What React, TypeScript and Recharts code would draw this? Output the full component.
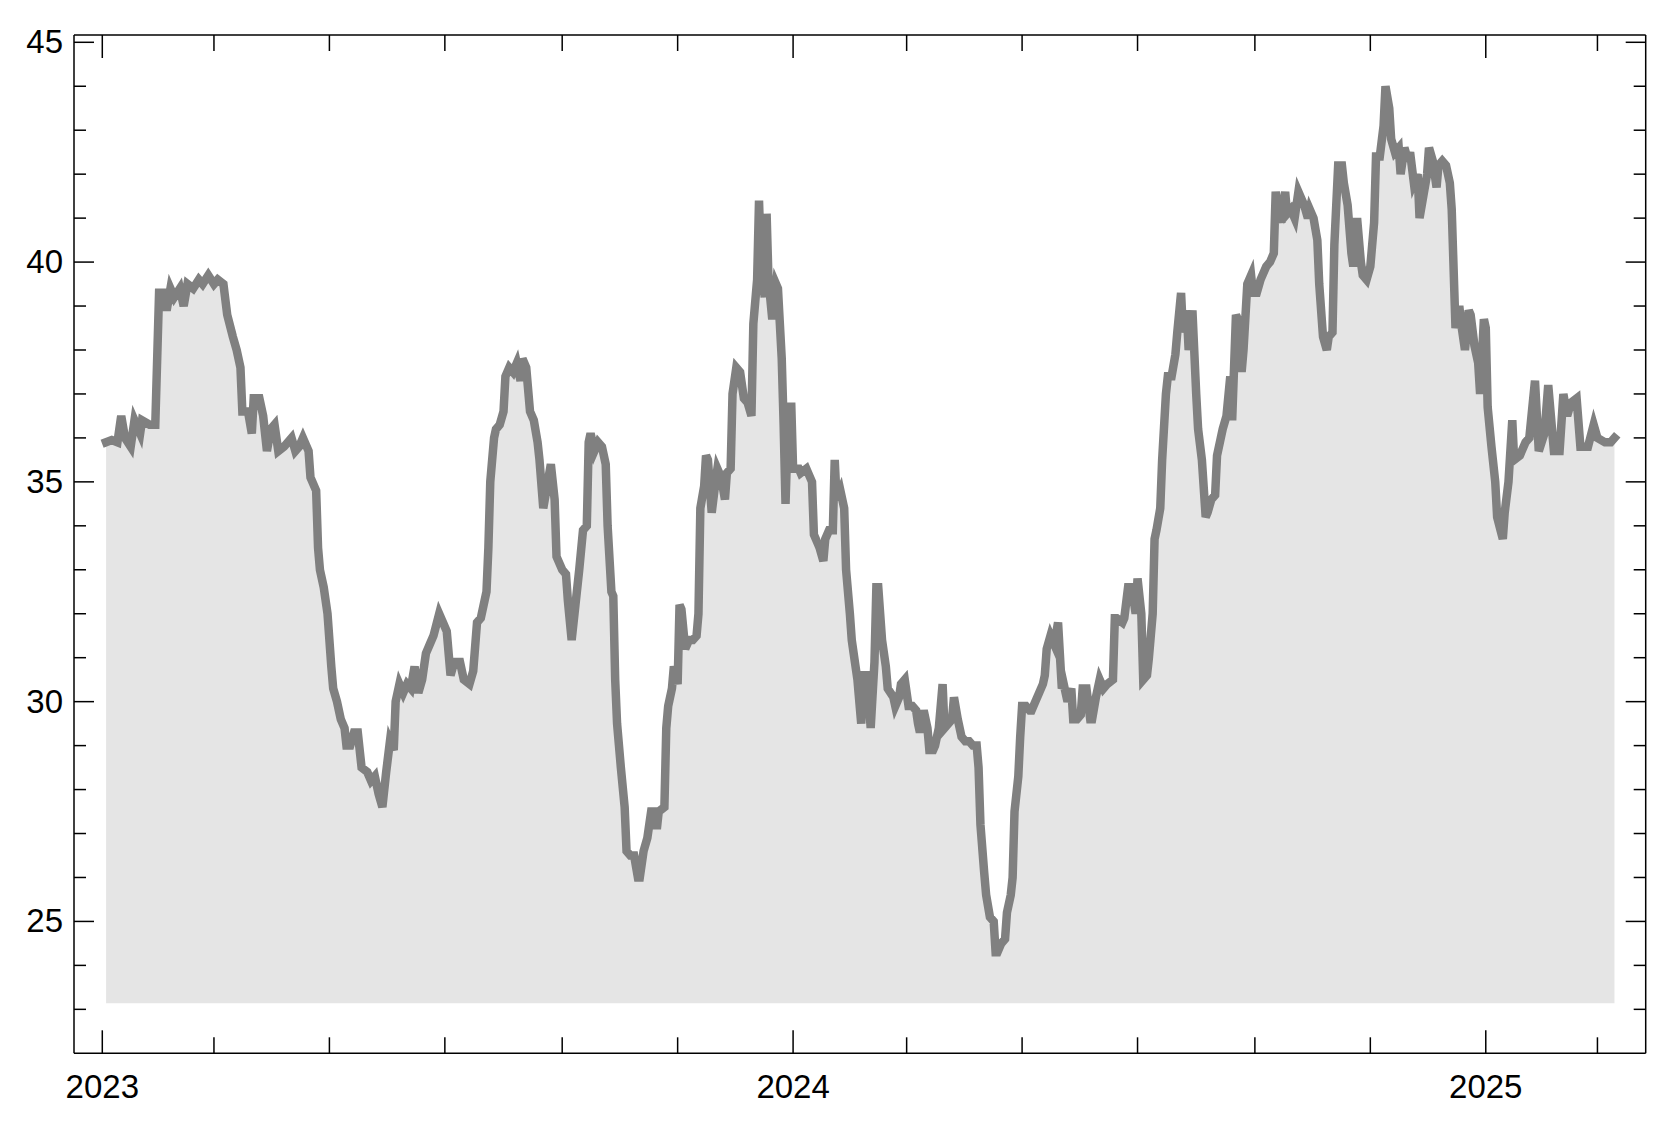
import { ComposedChart, Area, XAxis, YAxis } from "recharts";

// closing values, one per sampled trading day
const dates = [
  "2023-01-03", "2023-01-06", "2023-01-09", "2023-01-11", "2023-01-13", "2023-01-16", "2023-01-18", "2023-01-21", "2023-01-22", "2023-01-26",
  "2023-01-29", "2023-01-31", "2023-02-03", "2023-02-04", "2023-02-06", "2023-02-08", "2023-02-11", "2023-02-13", "2023-02-15", "2023-02-18",
  "2023-02-21", "2023-02-23", "2023-02-26", "2023-03-01", "2023-03-03", "2023-03-06", "2023-03-08", "2023-03-11", "2023-03-13", "2023-03-15",
  "2023-03-16", "2023-03-19", "2023-03-21", "2023-03-22", "2023-03-25", "2023-03-27", "2023-03-29", "2023-03-31", "2023-04-02", "2023-04-04",
  "2023-04-07", "2023-04-11", "2023-04-13", "2023-04-15", "2023-04-17", "2023-04-20", "2023-04-21", "2023-04-24", "2023-04-25", "2023-04-26",
  "2023-04-28", "2023-04-30", "2023-05-02", "2023-05-03", "2023-05-05", "2023-05-07", "2023-05-09", "2023-05-10", "2023-05-12", "2023-05-14",
  "2023-05-16", "2023-05-18", "2023-05-21", "2023-05-23", "2023-05-25", "2023-05-27", "2023-05-29", "2023-05-31", "2023-06-02", "2023-06-04",
  "2023-06-05", "2023-06-07", "2023-06-09", "2023-06-11", "2023-06-13", "2023-06-15", "2023-06-17", "2023-06-19", "2023-06-21", "2023-06-23",
  "2023-06-25", "2023-06-28", "2023-06-30", "2023-07-02", "2023-07-04", "2023-07-06", "2023-07-09", "2023-07-11", "2023-07-14", "2023-07-16",
  "2023-07-18", "2023-07-20", "2023-07-23", "2023-07-24", "2023-07-25", "2023-07-27", "2023-07-28", "2023-07-30", "2023-08-01", "2023-08-02",
  "2023-08-04", "2023-08-06", "2023-08-08", "2023-08-10", "2023-08-11", "2023-08-13", "2023-08-15", "2023-08-17", "2023-08-19", "2023-08-20",
  "2023-08-22", "2023-08-24", "2023-08-26", "2023-08-28", "2023-08-29", "2023-09-01", "2023-09-03", "2023-09-04", "2023-09-06", "2023-09-08",
  "2023-09-10", "2023-09-12", "2023-09-14", "2023-09-15", "2023-09-16", "2023-09-18", "2023-09-20", "2023-09-22", "2023-09-24", "2023-09-25",
  "2023-09-27", "2023-09-28", "2023-09-29", "2023-09-30", "2023-10-02", "2023-10-04", "2023-10-05", "2023-10-07", "2023-10-09", "2023-10-11",
  "2023-10-12", "2023-10-14", "2023-10-16", "2023-10-18", "2023-10-20", "2023-10-21", "2023-10-22", "2023-10-25", "2023-10-26", "2023-10-27",
  "2023-10-29", "2023-10-30", "2023-11-01", "2023-11-02", "2023-11-03", "2023-11-05", "2023-11-07", "2023-11-09", "2023-11-11", "2023-11-12",
  "2023-11-13", "2023-11-15", "2023-11-16", "2023-11-17", "2023-11-19", "2023-11-21", "2023-11-22", "2023-11-24", "2023-11-26", "2023-11-27",
  "2023-11-29", "2023-11-30", "2023-12-02", "2023-12-04", "2023-12-06", "2023-12-08", "2023-12-10", "2023-12-11", "2023-12-13", "2023-12-14",
  "2023-12-15", "2023-12-17", "2023-12-18", "2023-12-19", "2023-12-21", "2023-12-23", "2023-12-24", "2023-12-26", "2023-12-27", "2023-12-28",
  "2023-12-29", "2023-12-31", "2024-01-01", "2024-01-04", "2024-01-05", "2024-01-08", "2024-01-09", "2024-01-11", "2024-01-12", "2024-01-14",
  "2024-01-15", "2024-01-17", "2024-01-18", "2024-01-20", "2024-01-22", "2024-01-23", "2024-01-24", "2024-01-26", "2024-01-28", "2024-01-29",
  "2024-01-31", "2024-02-01", "2024-02-02", "2024-02-04", "2024-02-06", "2024-02-07", "2024-02-09", "2024-02-11", "2024-02-13", "2024-02-14",
  "2024-02-15", "2024-02-17", "2024-02-19", "2024-02-20", "2024-02-23", "2024-02-24", "2024-02-26", "2024-02-27", "2024-02-29", "2024-03-02",
  "2024-03-04", "2024-03-06", "2024-03-07", "2024-03-08", "2024-03-10", "2024-03-12", "2024-03-13", "2024-03-15", "2024-03-16", "2024-03-18",
  "2024-03-20", "2024-03-21", "2024-03-23", "2024-03-25", "2024-03-26", "2024-03-28", "2024-03-30", "2024-04-01", "2024-04-03", "2024-04-05",
  "2024-04-07", "2024-04-08", "2024-04-09", "2024-04-11", "2024-04-12", "2024-04-14", "2024-04-16", "2024-04-17", "2024-04-18", "2024-04-20",
  "2024-04-22", "2024-04-23", "2024-04-25", "2024-04-26", "2024-04-27", "2024-04-29", "2024-04-30", "2024-05-01", "2024-05-03", "2024-05-05",
  "2024-05-06", "2024-05-08", "2024-05-10", "2024-05-12", "2024-05-13", "2024-05-14", "2024-05-16", "2024-05-18", "2024-05-20", "2024-05-22",
  "2024-05-23", "2024-05-25", "2024-05-27", "2024-05-28", "2024-05-30", "2024-06-01", "2024-06-02", "2024-06-04", "2024-06-06", "2024-06-07",
  "2024-06-09", "2024-06-11", "2024-06-13", "2024-06-15", "2024-06-18", "2024-06-19", "2024-06-20", "2024-06-23", "2024-06-24", "2024-06-26",
  "2024-06-28", "2024-06-30", "2024-07-01", "2024-07-03", "2024-07-04", "2024-07-06", "2024-07-07", "2024-07-09", "2024-07-10", "2024-07-11",
  "2024-07-13", "2024-07-14", "2024-07-16", "2024-07-17", "2024-07-19", "2024-07-21", "2024-07-22", "2024-07-24", "2024-07-25", "2024-07-27",
  "2024-07-28", "2024-07-30", "2024-08-01", "2024-08-02", "2024-08-04", "2024-08-06", "2024-08-07", "2024-08-09", "2024-08-11", "2024-08-12",
  "2024-08-14", "2024-08-15", "2024-08-17", "2024-08-19", "2024-08-20", "2024-08-22", "2024-08-24", "2024-08-25", "2024-08-26", "2024-08-28",
  "2024-08-30", "2024-08-31", "2024-09-02", "2024-09-04", "2024-09-06", "2024-09-07", "2024-09-09", "2024-09-11", "2024-09-12", "2024-09-13",
  "2024-09-15", "2024-09-17", "2024-09-18", "2024-09-20", "2024-09-22", "2024-09-24", "2024-09-25", "2024-09-27", "2024-09-29", "2024-09-30",
  "2024-10-02", "2024-10-04", "2024-10-05", "2024-10-07", "2024-10-09", "2024-10-10", "2024-10-12", "2024-10-13", "2024-10-15", "2024-10-17",
  "2024-10-18", "2024-10-20", "2024-10-22", "2024-10-23", "2024-10-25", "2024-10-27", "2024-10-28", "2024-10-30", "2024-11-01", "2024-11-03",
  "2024-11-04", "2024-11-06", "2024-11-08", "2024-11-09", "2024-11-11", "2024-11-12", "2024-11-14", "2024-11-16", "2024-11-17", "2024-11-19",
  "2024-11-21", "2024-11-22", "2024-11-24", "2024-11-26", "2024-11-27", "2024-11-29", "2024-12-01", "2024-12-02", "2024-12-04", "2024-12-06",
  "2024-12-07", "2024-12-09", "2024-12-11", "2024-12-13", "2024-12-14", "2024-12-16", "2024-12-18", "2024-12-19", "2024-12-21", "2024-12-23",
  "2024-12-24", "2024-12-26", "2024-12-28", "2024-12-29", "2024-12-31", "2025-01-01", "2025-01-02", "2025-01-04", "2025-01-06", "2025-01-07",
  "2025-01-10", "2025-01-11", "2025-01-13", "2025-01-15", "2025-01-16", "2025-01-19", "2025-01-22", "2025-01-24", "2025-01-27", "2025-01-29",
  "2025-02-01", "2025-02-03", "2025-02-06", "2025-02-09", "2025-02-11", "2025-02-13", "2025-02-15", "2025-02-18", "2025-02-20", "2025-02-24",
  "2025-02-27", "2025-03-01", "2025-03-05", "2025-03-08", "2025-03-10",
];

const values = [
  35.9, 35.95, 35.9, 36.5, 36.0, 35.8, 36.4, 36.1, 36.4, 36.3,
  36.3, 39.3, 39.3, 38.9, 39.4, 39.2, 39.4, 39.0, 39.5, 39.4,
  39.6, 39.5, 39.7, 39.5, 39.6, 39.5, 38.8, 38.3, 38.0, 37.6,
  36.6, 36.6, 36.1, 36.9, 36.9, 36.5, 35.7, 36.2, 36.3, 35.7,
  35.8, 36.0, 35.7, 35.8, 36.0, 35.7, 35.1, 34.8, 33.5, 33.0,
  32.6, 32.0, 30.8, 30.3, 30.0, 29.6, 29.4, 29.0, 29.0, 29.3,
  29.3, 28.5, 28.4, 28.2, 28.3, 27.9, 27.6, 28.4, 29.1, 28.9,
  30.0, 30.4, 30.2, 30.4, 30.3, 30.8, 30.2, 30.5, 31.1, 31.3,
  31.5, 32.0, 31.8, 31.6, 30.6, 30.9, 30.9, 30.5, 30.4, 30.7,
  31.8, 31.9, 32.5, 33.5, 35.0, 36.0, 36.2, 36.3, 36.6, 37.4,
  37.6, 37.5, 37.7, 37.3, 37.8, 37.6, 36.6, 36.4, 35.9, 35.5,
  34.4, 34.9, 35.4, 34.6, 33.3, 33.0, 32.9, 32.3, 31.4, 32.2,
  33.0, 33.9, 34.0, 35.9, 36.1, 35.7, 35.9, 35.8, 35.4, 34.0,
  32.5, 32.4, 30.5, 29.5, 28.5, 27.6, 26.6, 26.5, 26.5, 26.0,
  26.0, 26.6, 26.9, 27.5, 27.5, 27.1, 27.5, 27.6, 29.4, 29.9,
  30.3, 30.8, 30.4, 32.2, 32.1, 31.2, 31.4, 31.4, 31.5, 32.0,
  34.4, 34.9, 35.6, 35.5, 34.3, 35.0, 35.3, 35.1, 34.6, 35.2,
  35.3, 37.0, 37.6, 37.5, 36.9, 36.8, 36.5, 38.6, 39.6, 41.4,
  40.0, 39.2, 41.1, 39.6, 38.7, 39.5, 39.4, 37.8, 36.3, 34.5,
  35.9, 36.8, 35.3, 35.3, 35.2, 35.3, 35.2, 35.0, 33.8, 33.6,
  33.5, 33.2, 33.7, 33.9, 33.9, 35.5, 34.6, 34.8, 34.4, 33.0,
  32.0, 31.4, 31.1, 30.5, 29.5, 30.6, 30.6, 29.4, 30.9, 32.6,
  32.6, 31.4, 30.8, 30.3, 30.1, 29.9, 30.1, 30.4, 30.5, 29.9,
  29.9, 29.8, 29.5, 29.3, 29.8, 29.4, 28.9, 28.9, 29.0, 29.4,
  30.4, 29.4, 29.5, 29.6, 30.1, 29.6, 29.2, 29.1, 29.1, 29.0,
  29.0, 28.5, 27.2, 26.1, 25.6, 25.1, 25.0, 24.3, 24.3, 24.5,
  24.6, 25.2, 25.6, 26.0, 27.5, 28.3, 29.2, 29.9, 29.9, 29.8,
  29.8, 30.0, 30.2, 30.4, 30.6, 31.2, 31.5, 31.3, 31.8, 30.3,
  30.4, 30.0, 30.3, 29.6, 29.6, 29.7, 30.3, 30.3, 29.6, 29.6,
  30.1, 30.5, 30.3, 30.4, 30.5, 31.9, 31.9, 31.8, 31.9, 32.6,
  32.6, 32.0, 32.8, 32.0, 30.5, 30.6, 31.0, 32.0, 33.7, 33.9,
  34.4, 35.5, 37.0, 37.4, 37.4, 37.9, 38.4, 39.3, 38.4, 38.9,
  38.0, 38.9, 37.0, 36.2, 35.5, 34.2, 34.3, 34.6, 34.7, 35.6,
  36.0, 36.2, 36.5, 37.4, 36.4, 38.8, 38.6, 37.5, 38.0, 39.5,
  39.7, 39.3, 39.3, 39.6, 39.8, 39.9, 40.0, 40.2, 41.6, 41.3,
  40.9, 41.6, 41.1, 41.2, 41.0, 41.6, 41.5, 41.3, 41.0, 41.2,
  41.0, 40.5, 39.5, 38.3, 38.0, 38.3, 38.4, 40.4, 42.2, 42.2,
  41.8, 41.3, 40.2, 39.9, 41.0, 40.0, 39.7, 39.6, 39.9, 40.9,
  42.4, 42.4, 43.1, 44.0, 43.5, 42.8, 42.5, 42.6, 42.0, 42.6,
  42.3, 42.5, 41.8, 42.0, 41.0, 41.5, 42.0, 42.6, 42.3, 41.7,
  42.2, 42.3, 42.2, 41.8, 41.2, 38.5, 39.0, 38.6, 38.0, 38.9,
  38.8, 38.1, 37.7, 37.0, 38.7, 38.5, 36.7, 35.8, 35.0, 34.2,
  33.7, 34.3, 35.0, 36.4, 35.5, 35.6, 35.9, 36.0, 37.3, 35.7,
  36.1, 37.2, 35.7, 35.7, 37.0, 36.5, 36.8, 36.9, 35.8, 35.8,
  36.3, 36.0, 35.9, 35.9, 36.0,
];

const yearTicks = ["2023-01-01", "2024-01-01", "2025-01-01"];
const monthTicks = [
  "2023-01-01", "2023-03-01", "2023-05-01", "2023-07-01", "2023-09-01", "2023-11-01",
  "2024-01-01", "2024-03-01", "2024-05-01", "2024-07-01", "2024-09-01", "2024-11-01",
  "2025-01-01", "2025-03-01",
];
const yTicks = [23, 24, 25, 26, 27, 28, 29, 30, 31, 32, 33, 34, 35, 36, 37, 38, 39, 40, 41, 42, 43, 44, 45];
const yLabelTicks = [25, 30, 35, 40, 45];

const DAY = 86400000;
const toTime = (s: string) => Date.parse(s + "T00:00:00Z");

const data = dates.map((d, i) => ({ t: toTime(d), v: values[i] }));
const xTicks = monthTicks.map(toTime);
const xMajor = new Set(yearTicks.map(toTime));
const xDomain = [toTime("2023-01-01") - 14.95 * DAY, toTime("2025-01-01") + 84.5 * DAY];
const yDomain = [22, 45.166];

const FONT = "'Liberation Sans', Arial, Helvetica, sans-serif";
const AXIS = "#000";

function BottomTick(props: any) {
  const { x, y, payload } = props;
  const major = xMajor.has(payload.value);
  return (
    <g>
      <line x1={x} x2={x} y1={y} y2={y - (major ? 23 : 16)} stroke={AXIS} strokeWidth={1.5} />
      {major && (
        <text x={x} y={y + 45} textAnchor="middle" fontSize={33} fontFamily={FONT} fill="#000">
          {new Date(payload.value).getUTCFullYear()}
        </text>
      )}
    </g>
  );
}

function TopTick(props: any) {
  const { x, y, payload } = props;
  const major = xMajor.has(payload.value);
  return <line x1={x} x2={x} y1={y} y2={y + (major ? 23 : 16)} stroke={AXIS} strokeWidth={1.5} />;
}

function LeftTick(props: any) {
  const { x, y, payload } = props;
  const major = yLabelTicks.includes(payload.value);
  return (
    <g>
      <line x1={x} x2={x + (major ? 20 : 12)} y1={y} y2={y} stroke={AXIS} strokeWidth={1.5} />
      {major && (
        <text x={x - 11} y={y + 11} textAnchor="end" fontSize={33} fontFamily={FONT} fill="#000">
          {payload.value}
        </text>
      )}
    </g>
  );
}

function RightTick(props: any) {
  const { x, y, payload } = props;
  const major = yLabelTicks.includes(payload.value);
  return <line x1={x} x2={x - (major ? 20 : 12)} y1={y} y2={y} stroke={AXIS} strokeWidth={1.5} />;
}

export default function App() {
  return (
    <div style={{ position: "absolute", left: 0, top: 0, width: 1671, height: 1124, background: "#fff" }}>
      <ComposedChart
        width={1671}
        height={1124}
        data={data}
        margin={{ top: 34, right: 24.3, bottom: 10.7, left: 14 }}
      >
        <XAxis
          xAxisId="bottom"
          orientation="bottom"
          dataKey="t"
          type="number"
          domain={xDomain}
          allowDataOverflow
          ticks={xTicks}
          interval={0}
          height={60}
          tickSize={0}
          tickMargin={0}
          tickLine={false}
          axisLine={{ stroke: AXIS, strokeWidth: 1.5 }}
          tick={(p: any) => <BottomTick {...p} />}
        />
        <XAxis
          xAxisId="top"
          orientation="top"
          dataKey="t"
          type="number"
          domain={xDomain}
          allowDataOverflow
          ticks={xTicks}
          interval={0}
          height={1}
          tickSize={0}
          tickMargin={0}
          tickLine={false}
          axisLine={{ stroke: AXIS, strokeWidth: 1.5 }}
          tick={(p: any) => <TopTick {...p} />}
        />
        <YAxis
          yAxisId="left"
          orientation="left"
          type="number"
          domain={yDomain}
          allowDataOverflow
          ticks={yTicks}
          interval={0}
          width={60}
          tickSize={0}
          tickMargin={0}
          tickLine={false}
          axisLine={{ stroke: AXIS, strokeWidth: 1.5 }}
          tick={(p: any) => <LeftTick {...p} />}
        />
        <YAxis
          yAxisId="right"
          orientation="right"
          type="number"
          domain={yDomain}
          allowDataOverflow
          ticks={yTicks}
          interval={0}
          width={1}
          tickSize={0}
          tickMargin={0}
          tickLine={false}
          axisLine={{ stroke: AXIS, strokeWidth: 1.5 }}
          tick={(p: any) => <RightTick {...p} />}
        />
        <Area
          xAxisId="bottom"
          yAxisId="left"
          type="linear"
          dataKey="v"
          baseValue={23.14}
          fill="#e5e5e5"
          fillOpacity={1}
          stroke="#808080"
          strokeWidth={8.5}
          strokeLinecap="square"
          dot={false}
          activeDot={false}
          isAnimationActive={false}
        />
      </ComposedChart>
    </div>
  );
}
